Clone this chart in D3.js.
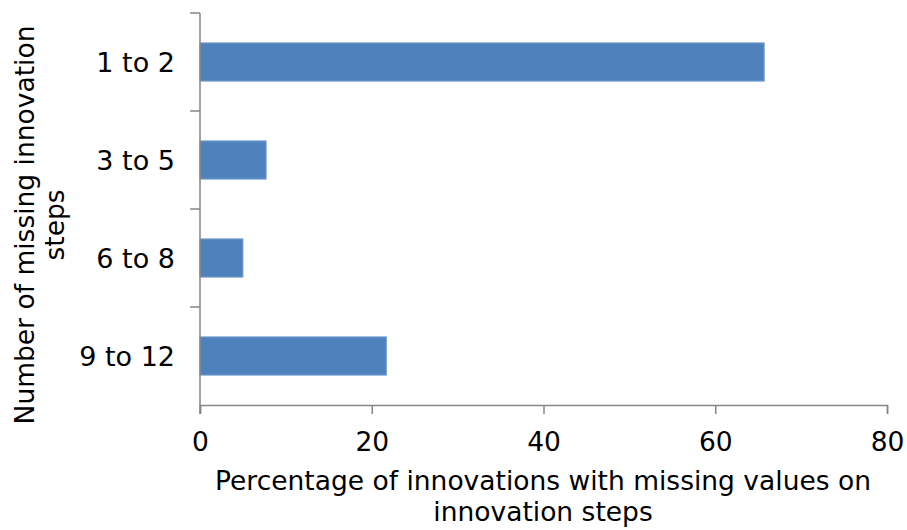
<!DOCTYPE html>
<html>
<head>
<meta charset="utf-8">
<script src="https://cdn.jsdelivr.net/npm/d3@7"></script>
<style>
  html, body { margin: 0; padding: 0; background: #fff; }
  svg { display: block; }
  .tick text { font-family: "DejaVu Sans", Verdana, sans-serif; fill: #000; }
</style>
</head>
<body>
<svg id="chart" width="907" height="530"></svg>
<script>
// Share of innovations with missing values, by number of missing steps
const categories = ["1 to 2", "3 to 5", "6 to 8", "9 to 12"];
const percentages = [65.7, 7.7, 5.0, 21.7];
const xTicks = [0, 20, 40, 60, 80];

const svg = d3.select("#chart");
const plotLeft = 200, plotRight = 887, plotTop = 13, plotBottom = 405;
const axisColor = "#868686";
const fontFamily = "'DejaVu Sans', Verdana, sans-serif";

const x = d3.scaleLinear().domain([0, 80]).range([plotLeft, plotRight]);
const y = d3.scaleBand().domain(categories).range([plotTop, plotBottom]).paddingInner(0.61).paddingOuter(0.305);

// bars
svg.append("g").selectAll("rect")
  .data(categories)
  .join("rect")
  .attr("x", x(0))
  .attr("y", d => y(d))
  .attr("width", (d, i) => x(percentages[i]) - x(0))
  .attr("height", y.bandwidth())
  .attr("fill", "#4f81bd")
  .attr("stroke", "#7a9fd0")
  .attr("stroke-width", 1);

// y axis: ticks on category boundaries
const yAxisG = svg.append("g");
yAxisG.append("line")
  .attr("x1", plotLeft).attr("x2", plotLeft)
  .attr("y1", plotTop).attr("y2", plotBottom + 9)
  .attr("stroke", axisColor).attr("stroke-width", 1.5);
const boundaries = categories.map(c => y(c) - y.step() * y.paddingInner() / 2);
yAxisG.selectAll("line.yt")
  .data(boundaries)
  .join("line")
  .attr("class", "yt")
  .attr("x1", plotLeft - 10).attr("x2", plotLeft)
  .attr("y1", d => d).attr("y2", d => d)
  .attr("stroke", axisColor).attr("stroke-width", 1.5);
yAxisG.selectAll("text")
  .data(categories)
  .join("text")
  .attr("x", plotLeft - 25)
  .attr("y", d => y(d) + y.bandwidth() / 2)
  .attr("dy", "0.36em")
  .attr("text-anchor", "end")
  .style("font-family", fontFamily)
  .style("font-size", "27px")
  .text(d => d);

// x axis
const xAxis = d3.axisBottom(x).tickValues(xTicks).tickSize(9).tickPadding(18);
const xg = svg.append("g").attr("transform", `translate(0,${plotBottom})`).call(xAxis);
xg.select(".domain").attr("stroke", axisColor).attr("stroke-width", 1.5);
xg.selectAll(".tick line").attr("stroke", axisColor).attr("stroke-width", 1.5);
xg.selectAll(".tick text").style("font-size", "26.5px");

// x axis title
const xTitle = svg.append("text")
  .attr("text-anchor", "middle")
  .style("font-family", fontFamily)
  .style("font-size", "26.5px");
xTitle.append("tspan").attr("x", 543).attr("y", 490).text("Percentage of innovations with missing values on");
xTitle.append("tspan").attr("x", 543).attr("y", 521).text("innovation steps");

// y axis title
const yTitle = svg.append("text")
  .attr("transform", "translate(0,225) rotate(-90)")
  .attr("text-anchor", "middle")
  .style("font-family", fontFamily)
  .style("font-size", "26.5px");
yTitle.append("tspan").attr("x", 0).attr("y", 34).text("Number of missing innovation");
yTitle.append("tspan").attr("x", 0).attr("y", 64).text("steps");
</script>
</body>
</html>
